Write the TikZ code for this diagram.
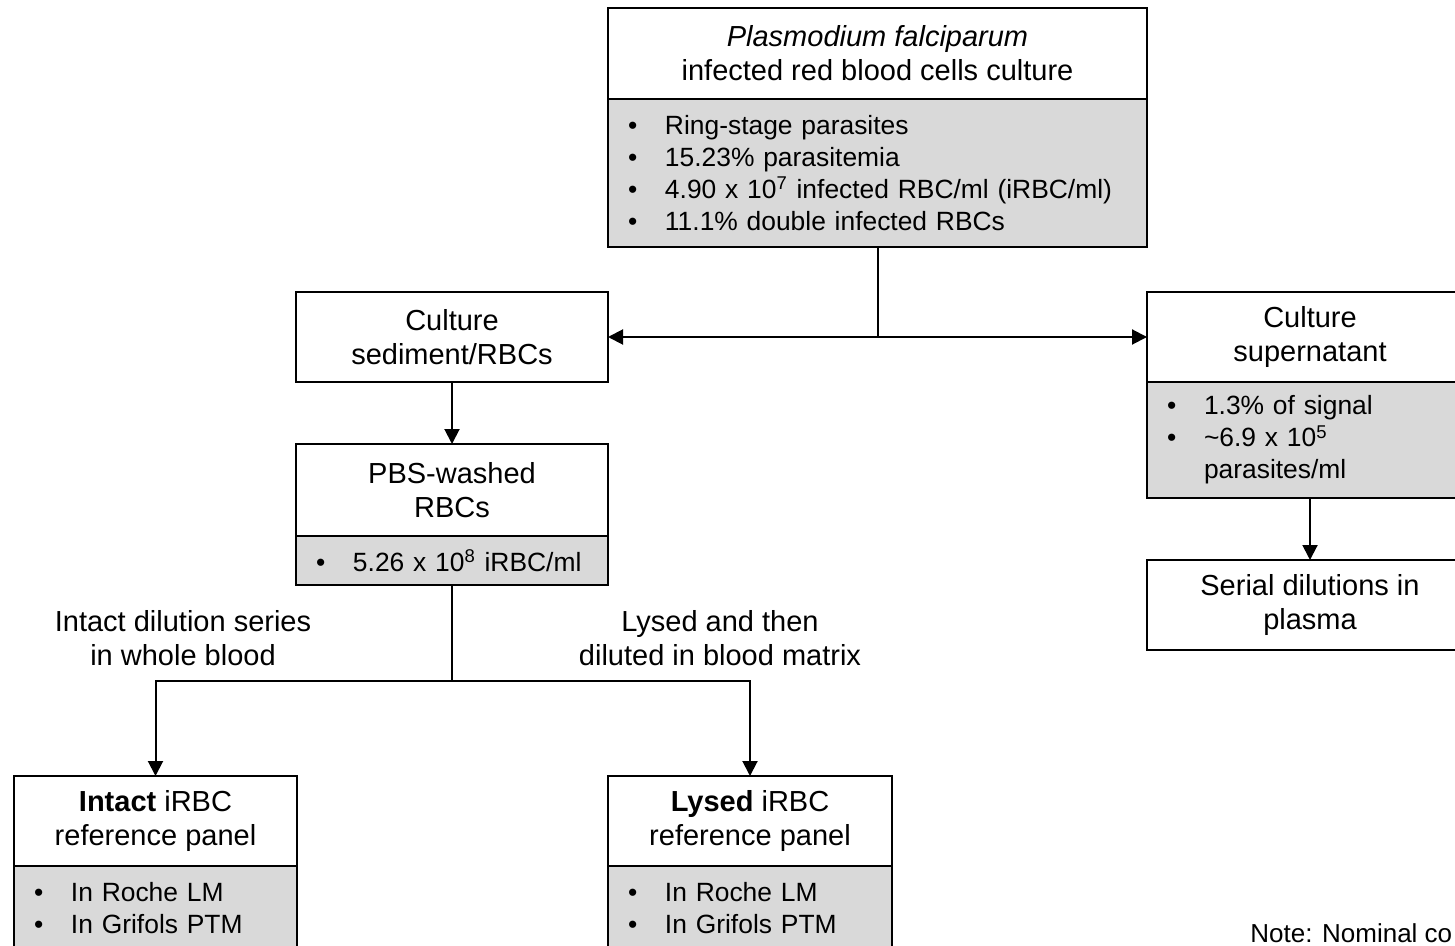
\documentclass[tikz,border=0pt]{standalone}
\usepackage{fontspec}
\setmainfont{Liberation Sans}
\usetikzlibrary{arrows.meta}
\definecolor{panelgray}{RGB}{217,217,217}
\newcommand{\bul}{\makebox[18.5pt][l]{\textbullet}}
\tikzset{
  box/.style={draw, line width=1pt, inner sep=0pt, outer sep=0pt, anchor=north west},
  head/.style={box, fill=white, align=center},
  list/.style={box, fill=panelgray, align=left, inner xsep=10pt, font=\fontsize{13.2}{16}\selectfont},
  link/.style={line width=1pt},
  arr/.style={link, -{Triangle[length=7.5pt,width=7.5pt]}}
}

\begin{document}
\begin{tikzpicture}[x=0.5pt, y=-0.5pt, font=\fontsize{14.5}{17}\selectfont]
  \useasboundingbox (0,0) rectangle (1455,946);
  \clip (0,0) rectangle (1455,946);
  \node[head, minimum width=269.5pt, minimum height=45.5pt] (pf) at (608,8)
    {\textit{Plasmodium falciparum}\\infected red blood cells culture};
  \node[list, text width=249.5pt, minimum height=74pt] (pfl) at (pf.south west)
    {\bul Ring-stage parasites\\
     \bul 15.23\% parasitemia\\
     \bul 4.90 x 10\textsuperscript{7} infected RBC/ml (iRBC/ml)\\
     \bul 11.1\% double infected RBCs};
  \node[head, minimum width=156pt, minimum height=45pt] (sed) at (296,292) {Culture\\sediment/RBCs};
  \node[head, minimum width=163pt, minimum height=45pt] (sup) at (1147,292) {Culture\\supernatant};
  \node[list, text width=143pt, minimum height=58pt] (supl) at (sup.south west)
    {\bul 1.3\% of signal\\
     \bul\textasciitilde6.9 x 10\textsuperscript{5}\\
     \hspace*{18.5pt}parasites/ml};
  \node[head, minimum width=163pt, minimum height=45pt] (ser) at (1147,560) {Serial dilutions in\\plasma};
  \node[head, minimum width=156pt, minimum height=46pt] (pbs) at (296,444) {PBS-washed\\RBCs};
  \node[list, text width=136pt, minimum height=24.5pt] (pbsl) at (pbs.south west)
    {\bul 5.26 x 10\textsuperscript{8} iRBC/ml};
  \node[head, minimum width=141.5pt, minimum height=45pt] (int) at (14,776) {\textbf{Intact} iRBC\\reference panel};
  \node[list, text width=121.5pt, minimum height=42pt] (intl) at (int.south west)
    {\bul In Roche LM\\
     \bul In Grifols PTM};
  \node[head, minimum width=142pt, minimum height=45pt] (lys) at (608,776) {\textbf{Lysed} iRBC\\reference panel};
  \node[list, text width=122pt, minimum height=42pt] (lysl) at (lys.south west)
    {\bul In Roche LM\\
     \bul In Grifols PTM};
  \node[align=center] (lbi) at (183,638) {Intact dilution series\\in whole blood};
  \node[align=center] (lbl) at (720,638) {Lysed and then\\diluted in blood matrix};
  \node[anchor=base west, inner sep=0pt, font=\fontsize{13}{16}\selectfont] (note) at (1250,942) {Note: Nominal co};
  \coordinate (j1) at (877.5,337);
  \coordinate (j2) at (452,681);
  \draw[link] (pfl.south) -- (j1);
  \draw[arr] (j1) -- (sed.east);
  \draw[arr] (j1) -- (sup.west);
  \draw[arr] (sed.south) -- (pbs.north);
  \draw[arr] (supl.south) -- (ser.north);
  \draw[link] (pbsl.south) -- (j2);
  \draw[arr] (j2) -| (int.north);
  \draw[arr] (j2) -| (lys.north);
\end{tikzpicture}
\end{document}
